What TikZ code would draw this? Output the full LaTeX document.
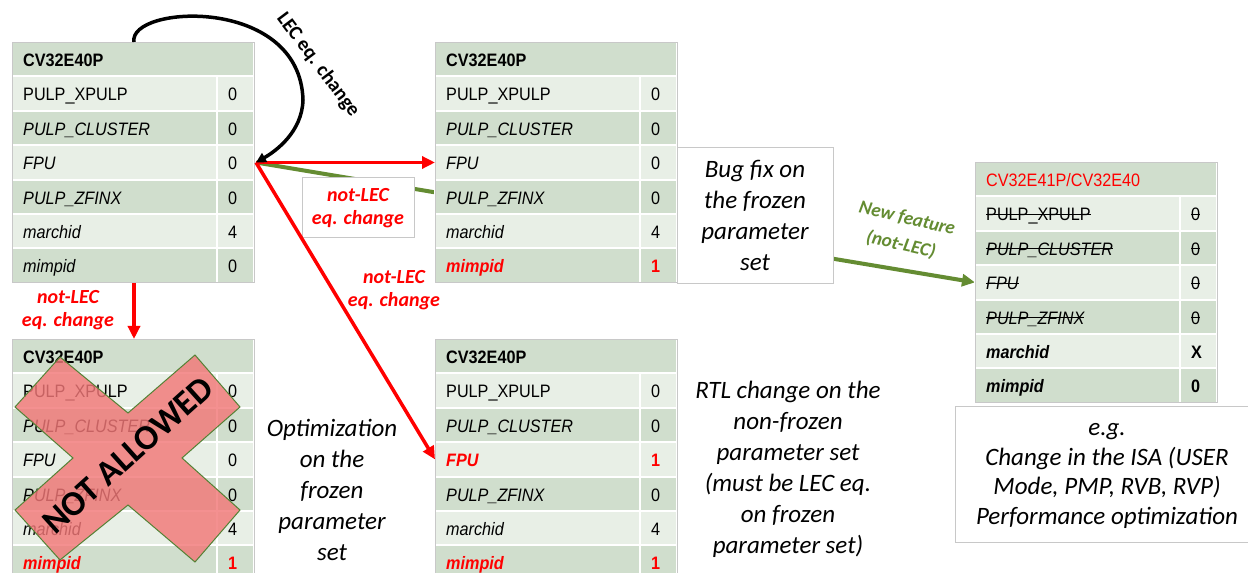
\documentclass[tikz,border=0pt]{standalone}
\usepackage{fontspec}
\usetikzlibrary{arrows.meta}
\newfontfamily\tabf[FakeStretch=0.9]{Liberation Sans}
\newfontfamily\calf{Carlito}
\definecolor{rowD}{RGB}{208,222,205}
\definecolor{rowL}{RGB}{232,239,230}
\definecolor{grn}{RGB}{100,140,50}
\definecolor{rd}{RGB}{255,0,0}
\definecolor{xfill}{RGB}{242,120,120}
\definecolor{xline}{RGB}{84,130,53}
\definecolor{bord}{RGB}{200,200,200}

\newsavebox{\strkbox}
\newcommand{\strk}[1]{\sbox{\strkbox}{#1}\rlap{\usebox{\strkbox}}\rule[0.33em]{\wd\strkbox}{0.06em}}

% header: name, left, top, text
\newcommand{\cvhead}[4]{%
  \path[fill=rowD, draw=white, line width=2bp] (#2,#3) rectangle ++(242,34.4);
  \node[celltxt, anchor=base west] (#1h) at (#2+11,#3+24.5) {#4};
}
% row: name, left, top, fill, label, value
\newcommand{\cvrow}[6]{%
  \path[fill=#4, draw=white, line width=2bp] (#2,#3) rectangle ++(205,34.4);
  \path[fill=#4, draw=white, line width=2bp] (#2+205,#3) rectangle ++(37,34.4);
  \node[celltxt, anchor=base west] (#1l) at (#2+11,#3+24.5) {#5};
  \node[celltxt, anchor=base west] (#1v) at (#2+216,#3+24.5) {#6};
}
\newcommand{\cvframe}[2]{%
  \draw[bord, line width=0.8bp] (#1,#2) rectangle ++(242,240.8);
}
\newcommand{\rb}[1]{{\color{rd}\bfseries\itshape #1}}
\newcommand{\rv}[1]{{\color{rd}\bfseries #1}}

\begin{document}
\begin{tikzpicture}[x=1bp,y=-1bp,
  celltxt/.style={font=\tabf\fontsize{18bp}{20bp}\selectfont, inner sep=0pt},
  note/.style={font=\calf\itshape\fontsize{25bp}{31bp}\selectfont, align=center, inner sep=0pt},
  redlbl/.style={font=\calf\bfseries\itshape\fontsize{20bp}{23.5bp}\selectfont, text=rd, align=center, inner sep=0pt},
  redarrow/.style={draw=rd, line width=3.5bp, -{Triangle[length=13bp,width=12bp]}},
  grnarrow/.style={draw=grn, line width=4bp, -{Triangle[length=13bp,width=12bp]}},
  blkarrow/.style={draw=black, line width=3.5bp, -{Triangle[length=10bp,width=10bp]}},
  boxw/.style={draw=bord, fill=white, line width=0.8bp, inner sep=0pt},
]
\useasboundingbox (0,0) rectangle (1248,573);
\clip (0,0) rectangle (1248,573);
\fill[white] (0,0) rectangle (1248,573);

% connector end points
\coordinate (t1fpu) at (256,162.5);
\coordinate (t1top) at (134,42);
\coordinate (t1bot) at (134,283);
\coordinate (t2fpu) at (435,162.5);
\coordinate (t3top) at (134,339);
\coordinate (t4fpu) at (435,459.4);
\coordinate (t5fpu) at (975,282.4);
\coordinate (lecmid) at (303,100);

% green connector (behind everything)
\draw[grnarrow] (t1fpu) -- (t5fpu);

% ---------- Table 1 ----------
\cvhead{ta}{12}{42}{\bfseries CV32E40P}
\cvrow{taa}{12}{76.4}{rowL}{PULP\_XPULP}{0}
\cvrow{tab}{12}{110.8}{rowD}{\itshape PULP\_CLUSTER}{0}
\cvrow{tac}{12}{145.2}{rowL}{\itshape FPU}{0}
\cvrow{tad}{12}{179.6}{rowD}{\itshape PULP\_ZFINX}{0}
\cvrow{tae}{12}{214}{rowL}{\itshape marchid}{4}
\cvrow{taf}{12}{248.4}{rowD}{\itshape mimpid}{0}
\cvframe{12}{42}

% ---------- Table 2 ----------
\cvhead{tb}{435}{42}{\bfseries CV32E40P}
\cvrow{tba}{435}{76.4}{rowL}{PULP\_XPULP}{0}
\cvrow{tbb}{435}{110.8}{rowD}{\itshape PULP\_CLUSTER}{0}
\cvrow{tbc}{435}{145.2}{rowL}{\itshape FPU}{0}
\cvrow{tbd}{435}{179.6}{rowD}{\itshape PULP\_ZFINX}{0}
\cvrow{tbe}{435}{214}{rowL}{\itshape marchid}{4}
\cvrow{tbf}{435}{248.4}{rowD}{\rb{mimpid}}{\rv{1}}
\cvframe{435}{42}

% ---------- Table 3 ----------
\cvhead{tc}{12}{339}{\bfseries CV32E40P}
\cvrow{tca}{12}{373.4}{rowL}{PULP\_XPULP}{0}
\cvrow{tcb}{12}{407.8}{rowD}{\itshape PULP\_CLUSTER}{0}
\cvrow{tcc}{12}{442.2}{rowL}{\itshape FPU}{0}
\cvrow{tcd}{12}{476.6}{rowD}{\itshape PULP\_ZFINX}{0}
\cvrow{tce}{12}{511}{rowL}{\itshape marchid}{4}
\cvrow{tcf}{12}{545.4}{rowD}{\rb{mimpid}}{\rv{1}}
\cvframe{12}{339}

% ---------- Table 4 ----------
\cvhead{td}{435}{339}{\bfseries CV32E40P}
\cvrow{tda}{435}{373.4}{rowL}{PULP\_XPULP}{0}
\cvrow{tdb}{435}{407.8}{rowD}{\itshape PULP\_CLUSTER}{0}
\cvrow{tdc}{435}{442.2}{rowL}{\rb{FPU}}{\rv{1}}
\cvrow{tdd}{435}{476.6}{rowD}{\itshape PULP\_ZFINX}{0}
\cvrow{tde}{435}{511}{rowL}{\itshape marchid}{4}
\cvrow{tdf}{435}{545.4}{rowD}{\rb{mimpid}}{\rv{1}}
\cvframe{435}{339}

% ---------- Table 5 ----------
\cvhead{te}{975}{162}{\color{rd}CV32E41P/CV32E40}
\cvrow{tea}{975}{196.4}{rowL}{\strk{PULP\_XPULP}}{\strk{0}}
\cvrow{teb}{975}{230.8}{rowD}{\itshape\strk{PULP\_CLUSTER}}{\strk{0}}
\cvrow{tec}{975}{265.2}{rowL}{\itshape\strk{FPU}}{\strk{0}}
\cvrow{ted}{975}{299.6}{rowD}{\itshape\strk{PULP\_ZFINX}}{\strk{0}}
\cvrow{tee}{975}{334}{rowL}{\bfseries\itshape marchid}{\bfseries X}
\cvrow{tef}{975}{368.4}{rowD}{\bfseries\itshape mimpid}{\bfseries 0}
\cvframe{975}{162}

% ---------- boxes ----------
\node[boxw, note, minimum width=156bp, minimum height=136bp] (bug) at (755,215)
  {Bug fix on\\the frozen\\parameter\\set};
\node[boxw, minimum width=294bp, minimum height=136bp] (egbox) at (1102,474) {};
\node[note, font=\calf\itshape\fontsize{25bp}{29.5bp}\selectfont] (egtxt) at (1107,476)
  {e.g.\\Change in the ISA (USER\\Mode, PMP, RVB, RVP)\\Performance optimization};
\node[boxw, minimum width=112bp, minimum height=60bp] (nlbox) at (358,207) {};
\node[redlbl] (nl1) at (358,208) {not-LEC\\eq. change};

% ---------- connectors ----------
\draw[redarrow] (t1fpu) -- (t2fpu);
\draw[redarrow] (t1fpu) -- (t4fpu);
\draw[redarrow] (t1bot) -- (t3top);
\draw[blkarrow] (t1top) .. controls (128,5) and (300,-5) .. (lecmid)
  .. controls (302,132) and (276,151) .. (t1fpu);

% ---------- labels ----------
\node[font=\calf\bfseries\fontsize{20bp}{24bp}\selectfont, rotate=-53, inner sep=0pt] (leclbl) at (318,65) {LEC eq. change};
\node[redlbl] (nl2) at (394,290) {not-LEC\\eq. change};
\node[redlbl] (nl3) at (68,310) {not-LEC\\eq. change};
\node[font=\calf\bfseries\itshape\fontsize{19bp}{27bp}\selectfont, text=grn, align=center, rotate=-13, inner sep=0pt] (nflbl) at (904,232) {New feature\\(not-LEC)};
\node[note] (opt) at (332,490) {Optimization\\on the\\frozen\\parameter\\set};
\node[note] (rtl) at (788,469) {RTL change on the\\non-frozen\\parameter set\\(must be LEC eq.\\on frozen\\parameter set)};

% ---------- NOT ALLOWED cross ----------
\path[fill=xfill, fill opacity=0.82, draw=xline, line width=1bp]
  (60,357) -- (128,413) -- (195,355) -- (240,407) -- (182,458) -- (240,510)
  -- (195,562) -- (128,505) -- (60,560) -- (15,510) -- (73,458) -- (15,407) -- cycle;
\node[font=\calf\bfseries\fontsize{35bp}{40bp}\selectfont, rotate=42, inner sep=0pt] (na) at (128,455) {NOT ALLOWED};
\end{tikzpicture}
\end{document}
